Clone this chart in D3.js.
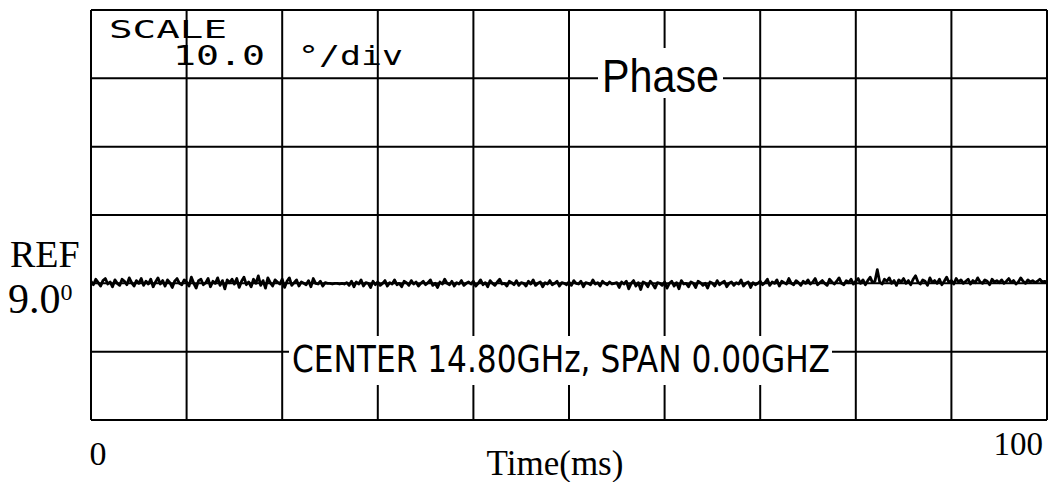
<!DOCTYPE html>
<html>
<head>
<meta charset="utf-8">
<script src="https://cdn.jsdelivr.net/npm/d3@7"></script>
<style>
  body { margin: 0; background: #fff; }
  svg { display: block; }
</style>
</head>
<body>
<div id="chart"></div>
<script>
// analyzer settings
let refLevel = 9.0;     // degrees, REF line
let scalePerDiv = 10;   // degrees per division
let xDivs = 10, yDivs = 6, refDiv = 4; // REF line is 4 divs below the top
let timeLabels = ["0", "100"];

// phase trace in degrees, one point every 0.25 ms (0..100 ms), 20 points per row = 5 ms
let phase = [
  9.3, 8.8, 9.6, 9.1, 8.6, 9.4, 9.7, 8.9, 9.2, 8.5, 9.5, 9.0, 8.7, 9.6, 9.3, 8.8, 9.8, 9.1, 8.6, 9.4,
  9.0, 9.7, 8.7, 9.3, 8.9, 9.6, 8.5, 9.2, 9.8, 8.9, 9.4, 8.6, 9.5, 9.1, 8.4, 9.3, 9.7, 9.0, 8.8, 9.5,
  9.2, 8.6, 9.9, 9.0, 8.3, 9.4, 9.6, 8.8, 9.1, 9.7, 8.5, 9.3, 9.0, 9.8, 8.7, 9.4, 8.2, 9.5, 9.1, 9.6,
  8.9, 9.7, 8.4, 9.3, 9.9, 8.8, 9.2, 8.5, 9.6, 9.0, 10.1, 8.7, 9.4, 8.3, 9.8, 9.1, 8.6, 9.5, 9.2, 8.9,
  9.6, 8.4, 9.3, 9.8, 8.7, 9.1, 9.5, 8.6, 9.2, 9.0, 8.8, 9.4, 8.5, 9.7, 9.0, 8.9, 9.3, 8.6, 9.1, 9.0,
  9.0, 8.9, 9.0, 9.0, 8.9, 9.0, 8.9, 9.1, 8.7, 9.3, 8.5, 9.2, 8.9, 9.5, 8.6, 9.1, 9.0, 8.4, 9.3, 8.8,
  9.2, 8.7, 9.0, 9.4, 8.6, 9.1, 8.9, 9.5, 8.8, 9.0, 8.5, 9.3, 9.1, 8.7, 9.4, 8.9, 9.2, 8.6, 9.0, 9.3,
  8.8, 9.1, 9.5, 8.7, 9.0, 8.4, 9.2, 8.9, 9.6, 9.0, 8.8, 9.3, 8.6, 9.1, 8.9, 9.4, 8.7, 9.0, 9.2, 8.9,
  9.3, 8.6, 9.0, 9.5, 8.8, 9.1, 8.5, 9.4, 9.0, 8.7, 9.2, 9.6, 8.9, 9.0, 8.6, 9.3, 9.1, 8.8, 9.4, 8.7,
  9.1, 9.0, 8.6, 9.3, 8.9, 9.5, 8.7, 9.0, 9.2, 8.5, 9.1, 8.9, 9.4, 8.8, 9.0, 9.3, 8.6, 9.1, 9.0, 8.8,
  9.2, 8.7, 9.4, 9.0, 8.9, 9.3, 8.5, 9.1, 9.0, 8.8, 9.5, 8.9, 9.1, 8.6, 9.3, 9.0, 8.8, 9.2, 8.9, 9.0,
  9.1, 8.4, 9.2, 8.9, 9.3, 8.2, 9.0, 9.4, 8.6, 9.1, 8.1, 9.2, 9.0, 8.5, 9.3, 8.9, 8.3, 9.1, 9.0, 8.7,
  9.2, 8.3, 9.0, 9.3, 8.6, 9.1, 8.2, 9.4, 8.9, 9.0, 8.5, 9.2, 9.0, 8.4, 9.3, 9.1, 8.7, 9.0, 8.3, 9.2,
  9.0, 8.6, 9.4, 8.8, 9.1, 9.3, 8.5, 9.0, 9.2, 8.7, 9.1, 8.9, 9.5, 8.6, 9.0, 9.2, 8.4, 9.1, 8.8, 9.0,
  9.3, 8.8, 9.1, 9.6, 8.7, 9.2, 9.0, 9.5, 8.6, 9.3, 9.1, 8.9, 9.7, 9.0, 8.8, 9.4, 9.1, 8.7, 9.3, 9.0,
  9.5, 8.9, 9.2, 9.7, 8.8, 9.1, 9.4, 9.0, 8.7, 9.6, 9.2, 8.9, 9.3, 9.8, 9.0, 8.8, 9.4, 9.1, 9.6, 8.9,
  9.3, 9.7, 9.0, 9.5, 8.8, 9.4, 9.9, 9.1, 9.3, 11.0, 9.2, 8.9, 9.6, 9.3, 9.8, 9.0, 9.4, 8.7, 9.5, 9.2,
  9.7, 9.0, 9.4, 8.8, 9.6, 10.1, 9.2, 8.9, 9.5, 9.3, 8.7, 9.8, 9.1, 9.4, 9.0, 9.6, 8.8, 9.3, 9.9, 9.1,
  9.4, 8.9, 9.7, 9.2, 9.5, 9.0, 9.3, 9.6, 8.9, 9.4, 9.1, 9.8, 9.2, 9.0, 9.5, 9.3, 8.8, 9.6, 9.2, 9.4,
  9.1, 9.5, 9.0, 9.3, 9.7, 9.1, 9.4, 8.9, 9.2, 9.8, 9.3, 9.0, 9.5, 9.2, 9.4, 9.1, 9.3, 9.6, 9.2, 9.3,
  9.2
];
let times = phase.map((d, i) => i * 0.25);

let width = 1052, height = 482;
let margin = { left: 91, right: 5, top: 10, bottom: 62 };

let svg = d3.select("#chart").append("svg")
  .attr("width", width)
  .attr("height", height);

let yTop = refLevel + refDiv * scalePerDiv;
let yBottom = yTop - yDivs * scalePerDiv;

let x = d3.scaleLinear().domain([0, 100]).range([margin.left, width - margin.right]);
let y = d3.scaleLinear().domain([yBottom, yTop]).range([height - margin.bottom, margin.top]);

let xGrid = d3.range(0, 100.001, 100 / xDivs);
let yGrid = d3.range(yBottom, yTop + 0.001, scalePerDiv);

// grid
let grid = svg.append("g").attr("stroke", "#000").attr("stroke-width", 2);
grid.selectAll("line.v").data(xGrid).enter().append("line")
  .attr("class", "v")
  .attr("x1", d => x(d)).attr("x2", d => x(d))
  .attr("y1", y(yTop)).attr("y2", y(yBottom));
grid.selectAll("line.h").data(yGrid).enter().append("line")
  .attr("class", "h")
  .attr("x1", x(0)).attr("x2", x(100))
  .attr("y1", d => y(d)).attr("y2", d => y(d));

// white boxes behind the on-screen annotations
svg.append("rect")
  .attr("x", 598).attr("y", 48).attr("width", 125).attr("height", 50)
  .attr("fill", "#fff");
svg.append("rect")
  .attr("x", 289).attr("y", 336).attr("width", 543).attr("height", 49)
  .attr("fill", "#fff");
// the short horizontal stubs either side of the annotations
grid.append("line").attr("x1", 598).attr("x2", 602).attr("y1", y(refLevel + 3 * scalePerDiv)).attr("y2", y(refLevel + 3 * scalePerDiv));
grid.append("line").attr("x1", 719).attr("x2", 723).attr("y1", y(refLevel + 3 * scalePerDiv)).attr("y2", y(refLevel + 3 * scalePerDiv));

// trace
let line = d3.line()
  .x((d, i) => x(times[i]))
  .y(d => y(d));
svg.append("path")
  .datum(phase)
  .attr("fill", "none")
  .attr("stroke", "#000")
  .attr("stroke-width", 2.8)
  .attr("stroke-linejoin", "round")
  .attr("d", line);

// screen texts
let mono = "'DejaVu Sans Mono', 'Liberation Mono', monospace";
svg.append("text").text("SCALE")
  .attr("x", 109).attr("y", 38)
  .attr("font-family", mono).attr("font-size", 25)
  .attr("textLength", 118).attr("lengthAdjust", "spacingAndGlyphs");
svg.append("text").text("10.0")
  .attr("x", 173).attr("y", 65)
  .attr("font-family", mono).attr("font-size", 27)
  .attr("textLength", 92).attr("lengthAdjust", "spacingAndGlyphs");
svg.append("text").text("°/div")
  .attr("x", 298).attr("y", 65)
  .attr("font-family", mono).attr("font-size", 27)
  .attr("textLength", 105).attr("lengthAdjust", "spacingAndGlyphs");

svg.append("text").text("Phase")
  .attr("x", 602).attr("y", 92)
  .attr("font-family", "'Liberation Sans', Arial, sans-serif").attr("font-size", 47)
  .attr("textLength", 117).attr("lengthAdjust", "spacingAndGlyphs");

svg.append("text").text("CENTER 14.80GHz, SPAN 0.00GHZ")
  .attr("x", 292).attr("y", 372)
  .attr("font-family", "'DejaVu Sans Condensed', 'Liberation Sans', sans-serif").attr("font-size", 37)
  .attr("textLength", 538).attr("lengthAdjust", "spacingAndGlyphs");

// outside labels (serif)
let serif = "'Liberation Serif', 'Times New Roman', serif";
svg.append("text").text("REF")
  .attr("x", 10).attr("y", 267)
  .attr("font-family", serif).attr("font-size", 38);
let refText = svg.append("text")
  .attr("x", 8).attr("y", 313)
  .attr("font-family", serif).attr("font-size", 42);
refText.append("tspan").text(refLevel.toFixed(1));
refText.append("tspan").text("0")
  .attr("font-size", 24).attr("dy", -13);

svg.append("text").text(timeLabels[0])
  .attr("x", x(0) + 7).attr("y", 465)
  .attr("text-anchor", "middle")
  .attr("font-family", serif).attr("font-size", 34);
svg.append("text").text(timeLabels[1])
  .attr("x", x(100) - 4).attr("y", 455)
  .attr("text-anchor", "end")
  .attr("font-family", serif).attr("font-size", 33);
svg.append("text").text("Time(ms)")
  .attr("x", 555).attr("y", 475)
  .attr("text-anchor", "middle")
  .attr("font-family", serif).attr("font-size", 35);
</script>
</body>
</html>
